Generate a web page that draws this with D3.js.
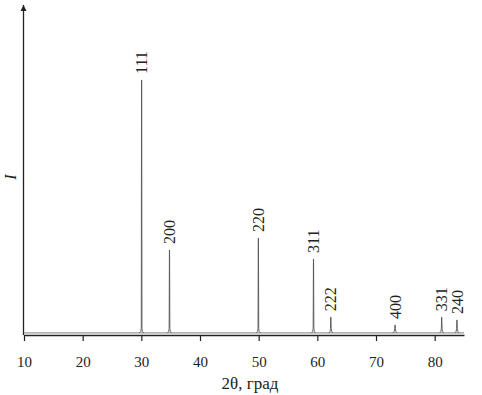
<!DOCTYPE html>
<html>
<head>
<meta charset="utf-8">
<script src="https://cdn.jsdelivr.net/npm/d3@7"></script>
<style>
  body { margin: 0; background: #fff; }
  svg text { font-family: "Liberation Serif", "DejaVu Serif", serif; fill: #222; }
</style>
</head>
<body>
<div id="chart"></div>
<script>
var svgWidth = 482;
var svgHeight = 395;

// peak positions (2theta), relative intensities and hkl labels
var peakPos = [30.05, 34.8, 49.95, 59.35, 62.3, 73.25, 81.2, 83.8];
var peakInt = [100, 33.3, 38, 29.8, 7, 3.9, 7, 5.9];
var peakHkl = ["111", "200", "220", "311", "222", "400", "331", "240"];
var background = 0.8;
var xTicks = [10, 20, 30, 40, 50, 60, 70, 80];

var svg = d3.select("#chart")
  .append("svg")
  .attr("width", svgWidth)
  .attr("height", svgHeight);

var x = d3.scaleLinear().domain([10, 85]).range([24, 464]);
var y = d3.scaleLinear().domain([0, 100]).range([335, 80]);

// arrow for the intensity axis
svg.append("defs").append("marker")
  .attr("id", "arrow")
  .attr("viewBox", "0 0 10 10")
  .attr("refX", 10).attr("refY", 5)
  .attr("markerWidth", 6).attr("markerHeight", 9)
  .attr("markerUnits", "userSpaceOnUse")
  .attr("orient", "auto")
  .append("path")
  .attr("d", "M0,0 L10,5 L0,10 Z")
  .attr("fill", "#222");

// x axis
var bottomAxis = d3.axisBottom(x).tickValues(xTicks).tickSizeInner(6).tickSizeOuter(0).tickPadding(15);
var gx = svg.append("g")
  .attr("transform", `translate(0, ${y(0)})`)
  .call(bottomAxis);
gx.select(".domain").attr("stroke", "#222").attr("stroke-width", 1.3);
gx.selectAll(".tick line").attr("stroke", "#222").attr("stroke-width", 1.2);
gx.selectAll(".tick text")
  .style("font-size", "15px")
  .style("font-family", "Liberation Serif, serif")
  .attr("fill", "#222");

// y axis (no ticks, just an arrow)
svg.append("line")
  .attr("x1", x(10) - 0.5).attr("x2", x(10) - 0.5)
  .attr("y1", y(0)).attr("y2", 5)
  .attr("stroke", "#222")
  .attr("stroke-width", 1.3)
  .attr("marker-end", "url(#arrow)");

// background line
svg.append("line")
  .attr("x1", x(10)).attr("x2", x(85))
  .attr("y1", y(background)).attr("y2", y(background))
  .attr("stroke", "#999")
  .attr("stroke-width", 1.3);

// peaks
var line = d3.line().x(d => x(d[0])).y(d => y(d[1]));
peakPos.forEach(function(p, i) {
  var top = peakInt[i];
  var shape = [
    [p - 0.35, background], [p - 0.14, background + 0.6], [p - 0.06, background + 1.8],
    [p - 0.012, top], [p + 0.012, top],
    [p + 0.06, background + 1.8], [p + 0.14, background + 0.6], [p + 0.35, background]
  ];
  svg.append("path")
    .attr("d", line(shape))
    .attr("fill", "none")
    .attr("stroke", "#555")
    .attr("stroke-width", 0.9);
});

// hkl labels
svg.append("g").selectAll("text")
  .data(peakHkl)
  .enter()
  .append("text")
  .attr("transform", (d, i) => `translate(${x(peakPos[i])}, ${y(peakInt[i]) - 6}) rotate(-90)`)
  .attr("dy", "0.35em")
  .style("font-size", "16px")
  .text(d => d);

// axis titles
svg.append("text")
  .attr("x", 250).attr("y", 389)
  .attr("text-anchor", "middle")
  .style("font-size", "17px")
  .text("2θ, град");

svg.append("text")
  .attr("transform", "translate(10, 177) rotate(-90)")
  .attr("text-anchor", "middle")
  .attr("dy", "0.35em")
  .style("font-size", "16px")
  .style("font-style", "italic")
  .text("I");
</script>
</body>
</html>
